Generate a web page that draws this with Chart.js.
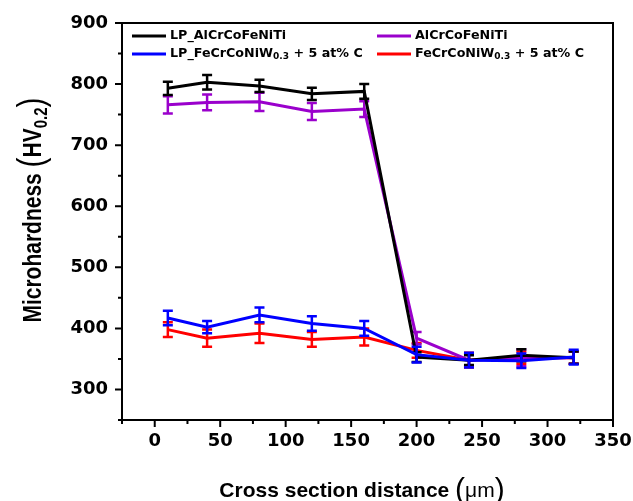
<!DOCTYPE html>
<html>
<head>
<meta charset="utf-8">
<script src="https://cdn.jsdelivr.net/npm/chart.js@4.4.1/dist/chart.umd.min.js"></script>
<style>
  body { margin: 0; background: #fff; }
  canvas { display: block; }
</style>
</head>
<body>
<canvas id="hardnessChart" width="633" height="501"></canvas>
<script>
// distance from surface (um)
const distances = [10, 40, 80, 120, 160, 200, 240, 280, 320];

const lpAlCrCoFeNiTi = [793, 803, 797, 784, 788, 353, 348, 356, 352];
const lpAlCrCoFeNiTiErr = [11, 12, 10, 10, 12, 8, 8, 10, 10];

const alCrCoFeNiTi = [766, 770, 771, 755, 759, 384, 348, 352, 352];
const alCrCoFeNiTiErr = [14, 13, 15, 14, 13, 10, 10, 14, 10];

const lpFeCrCoNiW = [417, 402, 422, 408, 400, 357, 348, 347, 353];
const lpFeCrCoNiWErr = [12, 10, 12, 12, 12, 13, 12, 12, 12];

const feCrCoNiW = [398, 384, 392, 382, 386, 364, 348, 352, 352];
const feCrCoNiWErr = [12, 14, 16, 12, 14, 12, 12, 10, 10];

const xTicks = { min: -25, max: 350, step: 25 };
const yTicks = { min: 250, max: 900, step: 50 };

const FONT = "'DejaVu Sans', sans-serif";

function toPoints(values) {
    return values.map((v, i) => ({ x: distances[i], y: v }));
}

function makeSet(label, values, errors, color, order) {
    return {
        label: label,
        data: toPoints(values),
        errors: errors,
        borderColor: color,
        backgroundColor: color,
        borderWidth: 3,
        pointRadius: 0,
        tension: 0,
        order: order
    };
}

// error bars drawn right after each dataset so overlap order matches
const errorBars = {
    id: 'errorBars',
    afterDatasetDraw(chart, args) {
        const ds = chart.data.datasets[args.index];
        const ctx = chart.ctx;
        const xs = chart.scales.x, ys = chart.scales.y;
        ctx.save();
        ctx.strokeStyle = ds.borderColor;
        ctx.lineWidth = 2.5;
        ds.data.forEach((p, i) => {
            const err = ds.errors[i];
            const px = xs.getPixelForValue(p.x);
            const top = ys.getPixelForValue(p.y + err);
            const bot = ys.getPixelForValue(p.y - err);
            ctx.beginPath();
            ctx.moveTo(px, top); ctx.lineTo(px, bot);
            ctx.moveTo(px - 5, top); ctx.lineTo(px + 5, top);
            ctx.moveTo(px - 5, bot); ctx.lineTo(px + 5, bot);
            ctx.stroke();
        });
        ctx.restore();
    }
};

function drawRich(ctx, parts, x, y) {
    // parts: [text, font, dy]
    let cx = x;
    parts.forEach(p => {
        ctx.font = p[1];
        ctx.fillText(p[0], cx, y + (p[2] || 0));
        cx += ctx.measureText(p[0]).width;
    });
    return cx - x;
}

function richWidth(ctx, parts) {
    let w = 0;
    parts.forEach(p => { ctx.font = p[1]; w += ctx.measureText(p[0]).width; });
    return w;
}

const frameAndText = {
    id: 'frameAndText',
    afterDraw(chart) {
        const ctx = chart.ctx;
        const a = chart.chartArea;
        const xs = chart.scales.x, ys = chart.scales.y;
        ctx.save();

        // frame
        ctx.strokeStyle = '#000';
        ctx.lineWidth = 2;
        ctx.strokeRect(a.left, a.top, a.right - a.left, a.bottom - a.top);

        // tick marks, major every 50 / 100
        ctx.lineWidth = 2;
        ctx.beginPath();
        xs.ticks.forEach(t => {
            const px = xs.getPixelForValue(t.value);
            const len = t.value % 50 === 0 ? 7 : 4;
            ctx.moveTo(px, a.bottom); ctx.lineTo(px, a.bottom + len);
        });
        ys.ticks.forEach(t => {
            const py = ys.getPixelForValue(t.value);
            const len = t.value % 100 === 0 ? 7 : 4;
            ctx.moveTo(a.left, py); ctx.lineTo(a.left - len, py);
        });
        ctx.stroke();

        ctx.fillStyle = '#000';
        ctx.textBaseline = 'alphabetic';
        ctx.textAlign = 'left';

        // x title
        const bold = "bold 21px 'Liberation Sans', Arial, sans-serif";
        const big = "30px 'Liberation Sans', Arial, sans-serif";
        const xParts = [
            ['Cross section distance ', bold, 0],
            ['(', big, 2],
            ['\u03bcm', "21px 'Liberation Sans', Arial, sans-serif", 0],
            [')', big, 2]
        ];
        const xw = richWidth(ctx, xParts);
        drawRich(ctx, xParts, 362 - xw / 2, 497);

        // y title
        const yParts = [
            ['Microhardness ', "bold 21px 'Liberation Sans', Arial, sans-serif", 0],
            ['(', "30px 'Liberation Sans', Arial, sans-serif", 2],
            ['HV', "bold 21px 'Liberation Sans', Arial, sans-serif", 0],
            ['0.2', "bold 15px 'Liberation Sans', Arial, sans-serif", 5],
            [')', "30px 'Liberation Sans', Arial, sans-serif", 2]
        ];
        const yw = richWidth(ctx, yParts);
        ctx.save();
        ctx.translate(41, 210);
        ctx.rotate(-Math.PI / 2);
        ctx.scale(1, 1.2);
        drawRich(ctx, yParts, -yw / 2, 0);
        ctx.restore();

        // legend
        const lf = 'bold 12.7px ' + FONT;
        const sf = 'bold 9px ' + FONT;
        const entries = [
            { color: '#000000', x: 132, y: 36, parts: [['LP_AlCrCoFeNiTi', lf, 0]] },
            { color: '#9a00cc', x: 377, y: 36, parts: [['AlCrCoFeNiTi', lf, 0]] },
            { color: '#0000ff', x: 132, y: 54, parts: [['LP_FeCrCoNiW', lf, 0], ['0.3', sf, 3], [' + 5 at% C', lf, 0]] },
            { color: '#ff0000', x: 377, y: 54, parts: [['FeCrCoNiW', lf, 0], ['0.3', sf, 3], [' + 5 at% C', lf, 0]] }
        ];
        entries.forEach(e => {
            ctx.strokeStyle = e.color;
            ctx.lineWidth = 3;
            ctx.beginPath();
            ctx.moveTo(e.x, e.y); ctx.lineTo(e.x + 34, e.y);
            ctx.stroke();
            ctx.textBaseline = 'middle';
            drawRich(ctx, e.parts, e.x + 38, e.y);
        });

        ctx.restore();
    }
};

const ctx = document.getElementById('hardnessChart').getContext('2d');
new Chart(ctx, {
    type: 'line',
    data: {
        datasets: [
            makeSet('LP_AlCrCoFeNiTi', lpAlCrCoFeNiTi, lpAlCrCoFeNiTiErr, '#000000', 1),
            makeSet('AlCrCoFeNiTi', alCrCoFeNiTi, alCrCoFeNiTiErr, '#9a00cc', 2),
            makeSet('LP_FeCrCoNiW0.3 + 5 at% C', lpFeCrCoNiW, lpFeCrCoNiWErr, '#0000ff', 0),
            makeSet('FeCrCoNiW0.3 + 5 at% C', feCrCoNiW, feCrCoNiWErr, '#ff0000', 3)
        ]
    },
    options: {
        responsive: false,
        animation: false,
        layout: { padding: { left: 0, top: 23, right: 20, bottom: 0 } },
        scales: {
            x: {
                type: 'linear',
                min: xTicks.min,
                max: xTicks.max,
                grid: { display: true, drawOnChartArea: false, drawTicks: false },
                border: { display: false },
                ticks: {
                    stepSize: xTicks.step,
                    autoSkip: false,
                    maxRotation: 0,
                    padding: 11,
                    color: '#000',
                    font: { family: FONT, size: 18, weight: 'bold' },
                    callback: v => (v % 50 === 0 ? v : '')
                },
                afterFit: s => { s.height = 81; s.paddingLeft = 0; s.paddingRight = 0; }
            },
            y: {
                min: yTicks.min,
                max: yTicks.max,
                grid: { display: true, drawOnChartArea: false, drawTicks: false },
                border: { display: false },
                ticks: {
                    stepSize: yTicks.step,
                    autoSkip: false,
                    padding: 14,
                    color: '#000',
                    font: { family: FONT, size: 18, weight: 'bold' },
                    callback: v => (v % 100 === 0 ? v : '')
                },
                afterFit: s => { s.width = 122; s.paddingTop = 0; s.paddingBottom = 0; }
            }
        },
        plugins: {
            legend: { display: false },
            tooltip: { enabled: false }
        }
    },
    plugins: [errorBars, frameAndText]
});
</script>
</body>
</html>
